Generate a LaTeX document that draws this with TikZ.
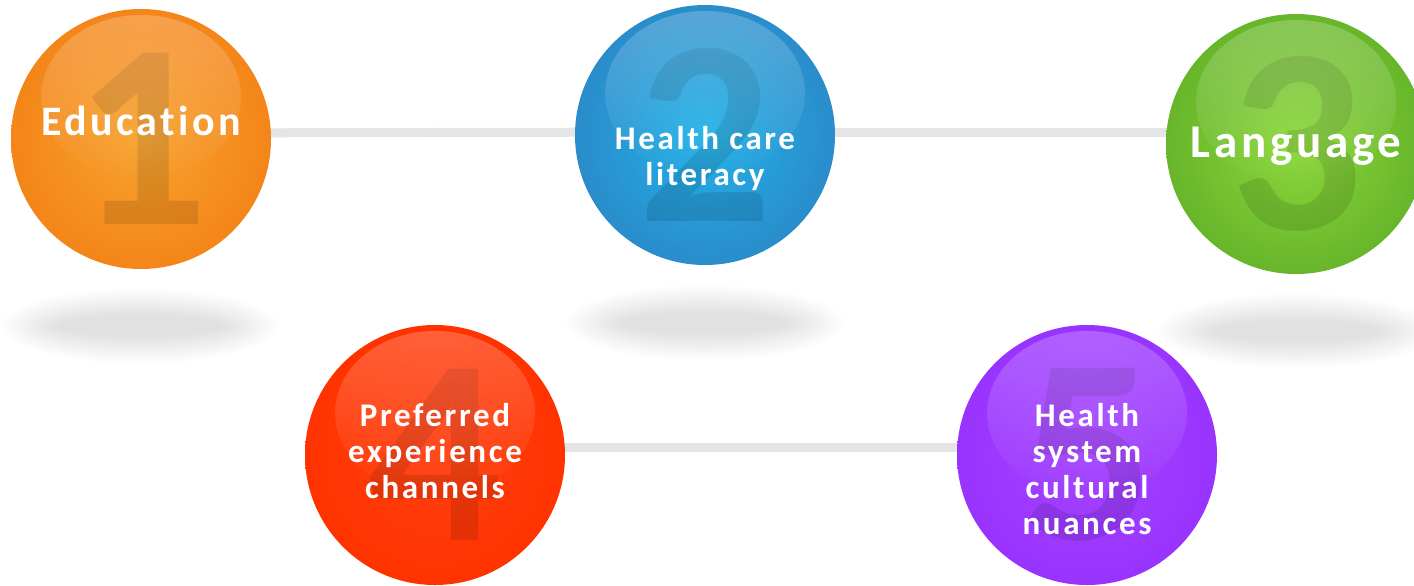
\documentclass[tikz,border=0pt]{standalone}
\usepackage{fontspec}
\setmainfont{Carlito}
\newfontfamily\spaced{Carlito}[LetterSpace=8,Ligatures=NoCommon]
\usetikzlibrary{fadings,backgrounds}

\definecolor{orangeout}{HTML}{F48519}
\definecolor{orangein}{HTML}{F7A32E}
\definecolor{blueout}{HTML}{2A8CCB}
\definecolor{bluein}{HTML}{22B2E8}
\definecolor{greenout}{HTML}{67B52A}
\definecolor{greenin}{HTML}{8CD83C}
\definecolor{redout}{HTML}{FF3300}
\definecolor{redin}{HTML}{FF3F10}
\definecolor{purpleout}{HTML}{9933FF}
\definecolor{purplein}{HTML}{A444FF}
\definecolor{linkgray}{HTML}{E5E5E5}

\begin{document}
\begin{tikzpicture}[x=0.5pt,y=-0.5pt,
        ball/.style n args={3}{circle,minimum size=130pt,inner sep=0pt,
            shading=radial,outer color=#1,inner color=#2,
            path picture={
                \node[font=\bfseries\fontsize{132}{132}\selectfont,text=black,
                    text opacity=.11,inner sep=0pt] (num#3)
                    at (path picture bounding box.center) {#3};
                \fill[white,fill opacity=.22,path fading=south]
                    ([yshift=21pt]path picture bounding box.center) ellipse (50pt and 41pt);}},
        caption/.style={text=white,align=center,inner sep=0pt,
            font=\spaced\bfseries\fontsize{16.5}{18}\selectfont},
        link/.style={draw=linkgray,line width=4.5pt}]
    \useasboundingbox (0,0) rectangle (1414,585);

    % soft shadows under the top row
    \foreach \cx/\cy in {140/326,705/323,1297/331}
        \foreach \k in {0,...,29}
            \fill[black,fill opacity=.0048] (\cx,\cy) ellipse ({140-2*\k} and {38-0.95*\k});

    \node[ball={orangeout}{orangein}{1}] (c1) at (141,139) {};
    \node[ball={blueout}{bluein}{2}] (c2) at (705,135) {};
    \node[ball={greenout}{greenin}{3}] (c3) at (1296,144) {};
    \node[ball={redout}{redin}{4}] (c4) at (435,455) {};
    \node[ball={purpleout}{purplein}{5}] (c5) at (1087,455) {};

    \node[caption,font=\spaced\bfseries\fontsize{21}{24}\selectfont,yshift=9pt] (t1) at (c1) {Education};
    \node[caption,yshift=-12pt] (t2) at (c2) {Health care\\literacy};
    \node[caption,font=\spaced\bfseries\fontsize{23.5}{26}\selectfont,yshift=-1pt] (t3) at (c3) {Language};
    \node[caption,yshift=2pt] (t4) at (c4) {Preferred\\experience\\channels};
    \node[caption,yshift=-7pt] (t5) at (c5) {Health\\system\\cultural\\nuances};

    \begin{scope}[on background layer]
        \draw[link] ([yshift=3pt]c1.center) -- ([yshift=1.5pt]c2.center);
        \draw[link] ([yshift=1.5pt]c2.center) -- ([yshift=6pt]c3.center);
        \draw[link] ([yshift=4pt]c4.center) -- ([yshift=4pt]c5.center);
    \end{scope}
\end{tikzpicture}
\end{document}
